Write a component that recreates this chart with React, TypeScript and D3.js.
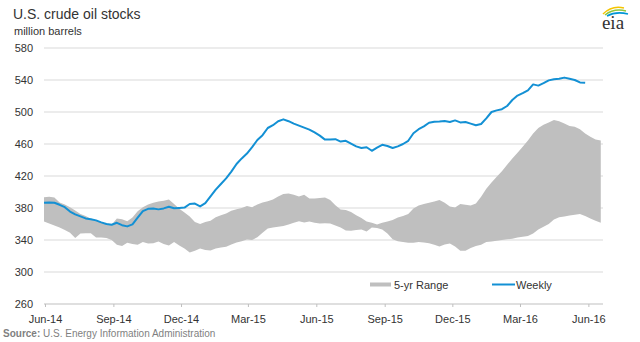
import React from "react";
import * as d3 from "d3";

const title = "U.S. crude oil stocks";
const unitLabel = "million barrels";
const sourceLabel = "Source:";
const sourceText = " U.S. Energy Information Administration";

const firstWeek = new Date(2014, 4, 30);

const weeklyStocks = [
  386.5, 387, 386.5, 384, 381, 375.5, 372, 369.5, 367, 366,
  364.5, 362, 360, 359, 361.5, 358.5, 357, 359.5, 368, 376,
  379, 379.5, 378.3, 379.5, 381.5, 379.6, 380, 380.5, 385, 385.5,
  382, 386, 394.5, 403, 410, 417, 425.5, 435, 442, 448,
  456, 465, 471, 480, 483.5, 488.5, 490.8, 488.5, 485.5, 483,
  480.5, 478, 474.5, 470.5, 465.5, 465.5, 466, 463, 464, 460.5,
  457, 455, 456, 451.5, 455.5, 459, 457.5, 455, 457, 460,
  464, 473.5, 478.5, 482, 486.5, 487.7, 488, 488.7, 487.5, 489.5,
  487, 487.5, 485.5, 483.5, 485, 492, 500, 502, 503.5, 507.5,
  515, 520.5, 523.5, 527, 534.5, 533, 536, 539.5, 541, 541.5,
  543, 541.5, 540, 537, 536.5,
];

const rangeUpper = [
  393.5, 394, 393, 387, 384.5, 381, 377, 372.5, 370, 366.5,
  365, 362, 360.5, 359, 367, 366, 363.5, 368, 376, 381,
  384.5, 386.5, 388, 389, 390.5, 385, 379, 374.5, 369.5, 362.5,
  360, 362.5, 364, 368.5, 371, 373, 376.5, 378.5, 380, 382.5,
  381, 384.5, 387, 388.5, 390.5, 394.5, 397.5, 398, 396.5, 394.5,
  396.5, 392, 392, 392.5, 393, 390, 383.5, 378, 377.5, 375,
  371, 367.5, 363, 361.5, 359.5, 361.5, 363, 365, 368, 370,
  372.5, 379.5, 383, 385, 386.5, 388, 390, 386.5, 382, 380.5,
  385, 384, 383, 385.5, 394, 404, 412, 419, 426, 434,
  442, 449, 456.5, 464.5, 473, 480, 484, 487, 490, 488.5,
  485.5, 482.5, 481.5, 478.5, 473, 469, 465.5, 464.5,
];

const rangeLower = [
  363, 360.5, 358, 355.5, 352.5, 349, 342.5, 348, 348.5, 348.5,
  343, 343, 342.5, 340, 334, 332.5, 336.5, 335, 334, 337.5,
  335.5, 336, 338, 335, 333, 337.5, 333, 329.5, 324.5, 326.5,
  329.5, 327.5, 327, 329.5, 330.5, 331.5, 334.5, 337, 338.5, 340.5,
  340, 343.5, 349, 354.5, 355.5, 356.5, 357.5, 359.5, 361.5, 363.5,
  362, 363, 361.5, 360.5, 361, 360.5, 358, 355.5, 352, 351.5,
  352.5, 353, 350.5, 355.5, 355, 353, 348, 341, 338.5, 337.5,
  336.7, 336.7, 337.5, 337, 336, 334, 332, 334.5, 335.5, 332,
  326.5, 326.5, 330, 332.5, 334, 337.5, 338, 339, 340, 341,
  341.5, 343, 344, 345, 348, 353, 356.5, 360, 365.5, 368.5,
  369.5, 370.5, 371.5, 372.5, 370, 367, 364, 361.5,
];

const yTicks = [260, 300, 340, 380, 420, 460, 500, 540, 580];
const xTickDates = [
  new Date(2014, 5, 1), new Date(2014, 8, 1), new Date(2014, 11, 1),
  new Date(2015, 2, 1), new Date(2015, 5, 1), new Date(2015, 8, 1),
  new Date(2015, 11, 1), new Date(2016, 2, 1), new Date(2016, 5, 1),
];
const xTickLabels = ["Jun-14", "Sep-14", "Dec-14", "Mar-15", "Jun-15", "Sep-15", "Dec-15", "Mar-16", "Jun-16"];
const legendLabels = ["5-yr Range", "Weekly"];

const FONT = "'Liberation Sans', Arial, sans-serif";
const BLUE = "#1390d4";
const GRAY = "#bfbfbf";

export default function App() {
  const x = d3.scaleTime().domain([new Date(2014, 4, 30), new Date(2016, 5, 20)]).range([44, 603]);
  const y = d3.scaleLinear().domain([260, 580]).range([304, 48]);
  const weekDate = (i: number) => d3.timeDay.offset(firstWeek, i * 7);

  const bandData = rangeUpper.map((u, i) => ({ d: weekDate(i), u, l: rangeLower[i] }));
  const area = d3
    .area<{ d: Date; u: number; l: number }>()
    .x((p) => x(p.d))
    .y0((p) => y(p.l))
    .y1((p) => y(p.u));
  const line = d3
    .line<number>()
    .x((_, i) => x(weekDate(i)))
    .y((v) => y(v));

  return (
    <svg width={640} height={342} style={{ position: "absolute", left: 0, top: 0, background: "#fff" }} fontFamily={FONT}>
      <text x={13} y={19} fontSize={14} fill="#333">{title}</text>
      <text x={14} y={35} fontSize={11} fill="#333">{unitLabel}</text>

      {/* eia logo */}
      <g>
        <path d="M603,14 Q612,5 624,8" fill="none" stroke="#f5c400" strokeWidth={1.5} />
        <path d="M605,15 Q614,8 626,11" fill="none" stroke="#8cc63f" strokeWidth={1.5} />
        <path d="M607,16 Q616,11 628,14" fill="none" stroke="#0096d7" strokeWidth={1.5} />
        <text x={613} y={29} fontSize={19} textAnchor="middle" fill="#333" fontFamily="'Liberation Serif', 'DejaVu Serif', serif">eia</text>
      </g>

      {yTicks.map((t) => (
        <g key={t}>
          <line x1={44} x2={603} y1={y(t)} y2={y(t)} stroke={t === 260 ? "#bfbfbf" : "#d9d9d9"} strokeWidth={1} />
          <text x={33} y={y(t) + 4} fontSize={11} textAnchor="end" fill="#333">{t}</text>
        </g>
      ))}

      {xTickDates.map((d, i) => (
        <g key={i}>
          <line x1={x(d)} x2={x(d)} y1={y(260)} y2={y(260) + 3} stroke="#bfbfbf" />
          <text x={x(d)} y={323} fontSize={11} textAnchor="middle" fill="#333">{xTickLabels[i]}</text>
        </g>
      ))}

      <path d={area(bandData) || ""} fill={GRAY} />
      <path d={line(weeklyStocks) || ""} fill="none" stroke={BLUE} strokeWidth={2} strokeLinejoin="round" />

      {/* legend */}
      <rect x={370} y={282.5} width={21} height={4} fill={GRAY} />
      <text x={394} y={289} fontSize={11} fill="#333">{legendLabels[0]}</text>
      <line x1={492} x2={515} y1={284.5} y2={284.5} stroke={BLUE} strokeWidth={2} />
      <text x={516} y={289} fontSize={11} fill="#333">{legendLabels[1]}</text>

      <text x={3} y={337} fontSize={10} fill="#7f7f7f">
        <tspan fontWeight="bold">{sourceLabel}</tspan>
        <tspan>{sourceText}</tspan>
      </text>
    </svg>
  );
}
